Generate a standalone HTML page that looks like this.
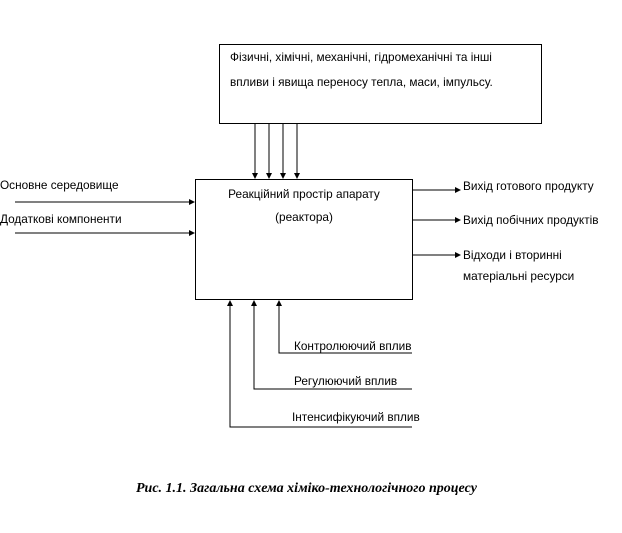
<!DOCTYPE html>
<html><head><meta charset="utf-8"><style>
body{margin:0;background:#fff;width:622px;height:533px;overflow:hidden}
svg{display:block}
text{font-family:"Liberation Sans","DejaVu Sans",sans-serif;font-size:11.8px;fill:#000}
</style></head><body>
<svg width="622" height="533" viewBox="0 0 622 533">
<defs><marker id="a" markerWidth="6" markerHeight="6" refX="5" refY="3" orient="auto" markerUnits="userSpaceOnUse"><path d="M0,0 L6,3 L0,6 z" fill="#000"/></marker></defs>
<g stroke="#000" stroke-width="1" fill="none">
<rect x="219.5" y="44.5" width="322" height="79"/>
<rect x="195.5" y="179.5" width="217" height="120"/>
<line x1="255" y1="124" x2="255" y2="178" marker-end="url(#a)"/>
<line x1="269" y1="124" x2="269" y2="178" marker-end="url(#a)"/>
<line x1="283" y1="124" x2="283" y2="178" marker-end="url(#a)"/>
<line x1="297" y1="124" x2="297" y2="178" marker-end="url(#a)"/>
<line x1="15" y1="202" x2="194" y2="202" marker-end="url(#a)"/>
<line x1="15" y1="233" x2="194" y2="233" marker-end="url(#a)"/>
<line x1="413" y1="190" x2="460" y2="190" marker-end="url(#a)"/>
<line x1="413" y1="220" x2="460" y2="220" marker-end="url(#a)"/>
<line x1="413" y1="255" x2="460" y2="255" marker-end="url(#a)"/>
<polyline points="412,353 279,353 279,301" marker-end="url(#a)"/>
<polyline points="412,389 254,389 254,301" marker-end="url(#a)"/>
<polyline points="412,427 230,427 230,301" marker-end="url(#a)"/>
</g>
<text x="230" y="61">Фізичні, хімічні, механічні, гідромеханічні та інші</text>
<text x="230" y="86">впливи і явища переносу тепла, маси, імпульсу.</text>
<text x="304" y="198" text-anchor="middle">Реакційний простір апарату</text>
<text x="304" y="221" text-anchor="middle">(реактора)</text>
<text x="0" y="189">Основне середовище</text>
<text x="0" y="223">Додаткові компоненти</text>
<text x="463" y="190">Вихід готового продукту</text>
<text x="463" y="224">Вихід побічних продуктів</text>
<text x="463" y="259">Відходи і вторинні</text>
<text x="463" y="280">матеріальні ресурси</text>
<text x="294" y="350">Контролюючий вплив</text>
<text x="294" y="385">Регулюючий вплив</text>
<text x="292" y="421">Інтенсифікуючий вплив</text>
<text x="136" y="492" style="font-family:'Liberation Serif',serif;font-style:italic;font-weight:bold;font-size:14px">Рис. 1.1. Загальна схема хіміко-технологічного процесу</text>
</svg>
</body></html>
